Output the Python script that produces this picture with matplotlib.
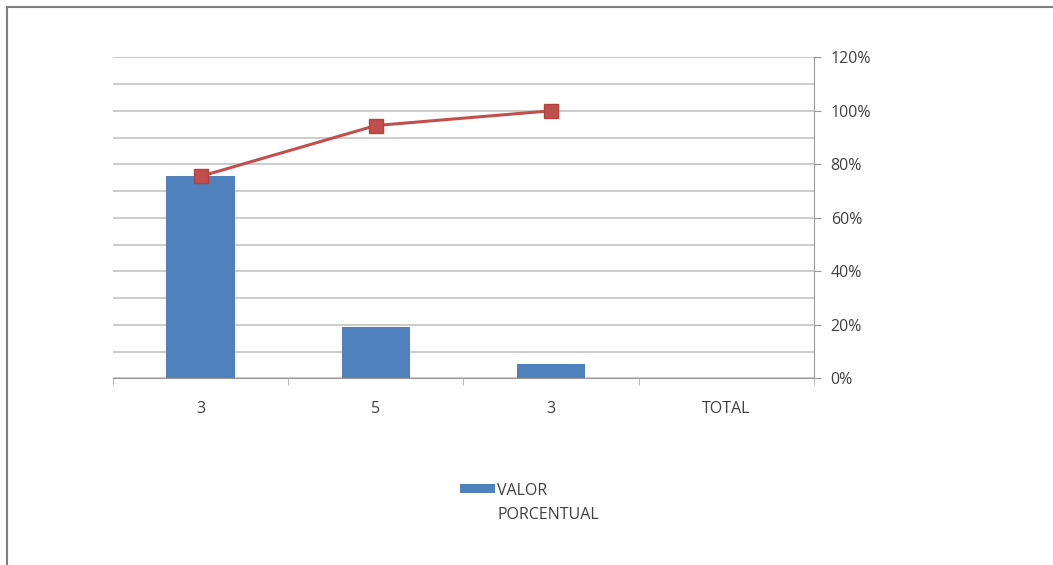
import numpy as np
import matplotlib.pyplot as plt
from matplotlib.ticker import PercentFormatter, MultipleLocator

# data
categorias = ['3', '5', '3', 'TOTAL']
valor_porcentual = [0.755, 0.19, 0.055, 0.0]
acumulado = [0.755, 0.945, 1.00]

plt.rcParams['font.family'] = ['Open Sans', 'DejaVu Sans']

fig = plt.figure(figsize=(10.53, 5.65), dpi=100)
ax = fig.add_axes([0.1073, 0.3304, 0.6657, 0.5682])

x = np.arange(len(categorias))
ax.bar(x, valor_porcentual, width=0.39, color='#4F81BD', label='VALOR', zorder=3)
ax.plot(x[:len(acumulado)], acumulado, color='#C0504D', lw=2.2, marker='s',
        markersize=10, markerfacecolor='#C0504D', markeredgecolor='#B8403D', zorder=4)

ax.set_xlim(-0.5, len(categorias) - 0.5)
ax.set_ylim(0, 1.2)

# gridlines every 10 %, labels every 20 % on the right side
ax.yaxis.set_major_locator(MultipleLocator(0.2))
ax.yaxis.set_minor_locator(MultipleLocator(0.1))
ax.yaxis.set_major_formatter(PercentFormatter(1.0, decimals=0))
ax.yaxis.tick_right()
ax.grid(axis='y', which='both', color='#c4c4c4', lw=1.2, zorder=0)
ax.tick_params(axis='y', which='major', length=5, color='#999999', pad=7,
               labelsize=11.5, labelcolor='#404040')
ax.tick_params(axis='y', which='minor', length=0)

ax.set_xticks(x)
ax.set_xticklabels(categorias)
ax.set_xticks(np.arange(-0.5, len(categorias)), minor=True)
ax.tick_params(axis='x', which='major', length=0, pad=16, labelsize=11.5,
               labelcolor='#404040')
ax.tick_params(axis='x', which='minor', length=5, color='#b0b0b0', direction='out')

for side in ['top', 'left']:
    ax.spines[side].set_visible(False)
ax.spines['bottom'].set_color('#999999')
ax.spines['right'].set_color('#999999')

leg = fig.legend(loc='upper left', bbox_to_anchor=(0.4294, 0.16), frameon=False,
                 fontsize=11.5, handlelength=2.2, handleheight=0.5, handletextpad=0.1,
                 borderpad=0)
for t in leg.get_texts():
    t.set_color('#404040')
fig.text(0.472, 0.088, 'PORCENTUAL', fontsize=11.5, color='#404040', va='center')

# chart frame (only top and left edges fall inside the crop)
fig.add_artist(plt.Line2D([0.0066, 1.0], [0.987, 0.987], color='#808080', lw=1.5))
fig.add_artist(plt.Line2D([0.0066, 0.0066], [0.0, 0.987], color='#808080', lw=1.5))

fig.savefig('out.png', dpi=100)
